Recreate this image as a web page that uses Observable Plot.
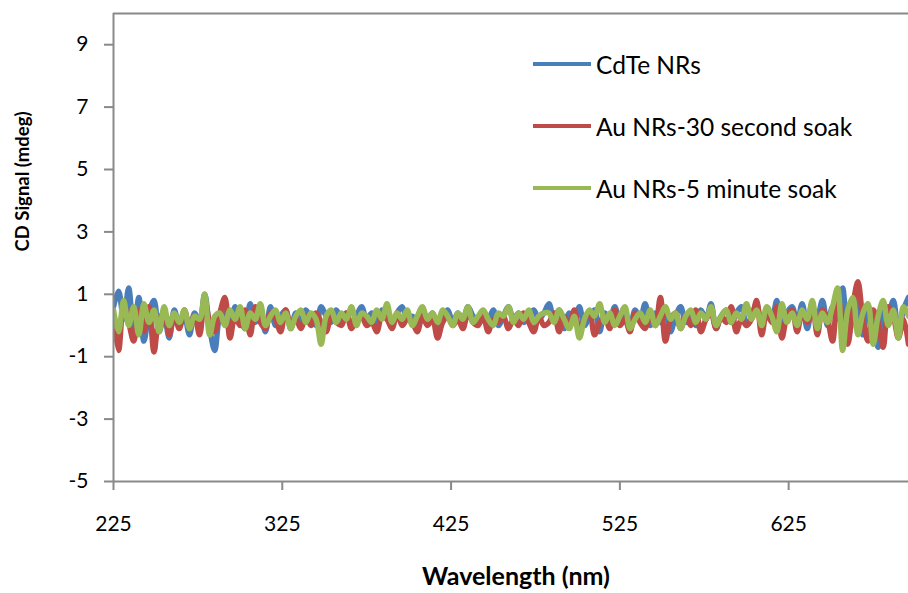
<!DOCTYPE html>
<html><head><meta charset="utf-8">
<script src="https://cdn.jsdelivr.net/npm/d3@7"></script>
<script src="https://cdn.jsdelivr.net/npm/@observablehq/plot@0.6"></script>
<style>
html,body{margin:0;padding:0;background:#fff;overflow:hidden}
#wrap{position:relative;width:908px;height:593px;font-family:Lato,"Open Sans",sans-serif}
.item{position:absolute;left:533px;height:30px;display:flex;align-items:center;white-space:nowrap;font-size:24.5px;color:#000}
.swatch{width:58px;height:4px;margin-right:5px}
</style></head><body><div id="wrap"></div>
<script>
// sampling grid (nm)
const wavelengths = d3.range(225, 697, 3);
const cdte = [
 0.6,1.1,0.2,1.2,-0.3,0.9,-0.5,0.4,0.8,-0.2,0.3,-0.4,0.5,
 0.0,0.3,-0.3,0.4,0.1,1.0,-0.1,-0.8,0.3,0.5,-0.2,0.6,0.2,-0.1,0.7,0.1,0.4,-0.2,0.6,0.0,0.3,0.5,-0.1,
 0.4,0.1,0.5,0.2,0.0,0.6,0.3,0.1,0.5,0.2,
 0.4,0.0,0.3,0.6,0.2,0.4,0.1,0.5,0.3,0.0,
 0.4,0.6,0.2,0.3,0.1,0.5,0.2,0.4,0.0,0.3,
 0.5,0.1,0.4,0.2,0.6,0.3,0.1,0.4,0.2,0.5,
 0.0,0.3,0.6,0.2,0.4,0.1,0.3,0.5,0.2,0.4,
 0.7,0.2,0.5,-0.1,0.4,0.1,0.6,0.0,0.3,0.5,
 -0.2,0.4,0.2,0.6,0.1,0.3,-0.1,0.5,0.2,0.7,
 0.0,0.4,0.1,0.5,-0.2,0.3,0.6,0.1,0.4,0.0,
 0.5,0.2,0.7,-0.1,0.3,0.5,0.1,0.4,0.6,0.0,
 0.3,0.7,0.0,0.5,0.2,0.8,-0.2,0.4,0.6,0.1,
 0.7,-0.1,0.5,0.3,0.8,0.0,0.6,0.2,1.2,-0.4,
 0.3,0.9,-0.3,0.6,0.2,-0.7,0.7,0.4,0.8,-0.2,
 0.5,0.9
];
const au30 = [
 0.3,-0.8,0.7,0.1,-0.5,0.5,-0.2,0.6,-0.85,0.2,0.4,-0.3,0.3,
 -0.1,0.5,0.0,0.3,-0.3,0.8,0.1,-0.2,0.4,0.9,
 -0.4,0.3,0.0,0.5,-0.3,0.6,0.1,-0.1,0.4,0.2,
 -0.2,0.5,0.0,
 0.2,-0.1,0.3,0.0,0.4,0.1,-0.2,0.3,0.1,0.0,
 0.4,-0.1,0.2,0.3,0.0,0.1,-0.2,0.3,0.2,-0.1,
 0.4,0.0,0.2,0.1,-0.2,0.3,0.0,0.2,-0.4,0.1,
 0.3,0.0,0.2,-0.1,0.4,0.1,0.0,0.3,-0.2,0.2,
 0.1,0.3,-0.1,0.2,0.0,0.4,0.1,-0.2,0.3,0.0,
 0.1,0.4,-0.2,0.3,0.0,0.5,-0.1,0.2,0.4,-0.3,
 0.1,0.3,-0.1,0.5,0.0,0.2,-0.2,0.4,0.1,-0.1,
 0.3,0.0,0.9,-0.5,0.2,0.4,-0.1,0.3,0.0,0.5,
 -0.2,0.2,0.4,-0.1,0.3,0.1,0.6,-0.2,0.2,0.0,
 0.2,0.8,-0.3,0.4,0.1,0.6,-0.4,0.3,0.5,-0.2,
 0.4,0.1,0.7,-0.3,0.5,0.2,-0.5,0.8,0.3,-0.6,
 0.6,1.4,0.2,-0.5,0.5,0.1,-0.7,0.6,0.3,-0.4,
 0.2,-0.6
];
const au5 = [
 0.5,-0.2,0.8,0.0,0.6,-0.3,0.7,0.1,0.5,-0.2,0.6,0.0,0.4,
 0.1,0.5,-0.1,0.3,0.2,1.0,-0.3,0.3,0.4,0.0,
 0.5,0.2,0.6,-0.1,0.4,0.2,0.7,0.0,0.3,0.5,
 0.1,0.4,-0.1,
 0.3,0.5,0.1,0.4,0.2,-0.6,0.3,0.5,0.1,0.4,
 0.2,0.6,0.0,0.4,0.3,0.1,0.5,0.2,0.7,0.1,
 0.4,0.2,0.5,0.0,0.3,0.6,0.2,0.4,0.1,0.5,
 0.3,0.0,0.4,0.2,0.6,0.1,0.3,0.5,0.2,0.0,
 0.4,0.3,0.6,0.1,0.4,0.2,0.5,0.1,0.3,0.4,
 0.4,0.1,0.5,0.2,-0.1,0.3,-0.4,0.2,0.5,0.3,
 0.7,0.1,0.4,0.0,0.3,0.6,-0.1,0.2,0.4,0.1,
 0.5,0.0,0.3,0.6,0.2,0.4,-0.1,0.3,0.5,0.1,
 0.4,0.2,0.6,0.0,0.3,0.5,0.1,0.4,0.2,0.7,
 0.2,0.5,0.0,0.6,0.3,-0.2,0.7,0.1,0.4,0.0,
 0.5,0.2,0.8,-0.1,0.4,0.1,0.6,1.2,-0.8,0.5,
 0.9,-0.3,0.4,0.7,-0.6,0.3,0.8,0.0,0.5,-0.4,
 0.6,0.3
];
const seriesNames = ["CdTe NRs", "Au NRs-30 second soak", "Au NRs-5 minute soak"];
const seriesColors = ["#4A7EBB", "#BE4B48", "#98B954"];
const yTicks = [-5, -3, -1, 1, 3, 5, 7, 9];
const xTicks = [225, 325, 425, 525, 625];
const xTitle = "Wavelength (nm)";
const yTitle = "CD Signal (mdeg)";

const seriesValues = [cdte, au30, au5];
const rowsFor = vals => wavelengths.map((w, i) => ({wl: w, v: vals[i]})).filter(d => d.v != null);

const axisGray = "#898989";
const chart = Plot.plot({
  width: 908, height: 593,
  marginLeft: 113, marginRight: 0, marginTop: 13, marginBottom: 112,
  style: {fontFamily: "Lato, 'Open Sans', sans-serif", fontSize: "21px", color: "#000", background: "#fff"},
  x: {domain: [225, 696]},
  y: {domain: [-5, 10]},
  marks: [
    ...seriesValues.map((vals, k) => Plot.lineY(rowsFor(vals), {
      x: "wl", y: "v", stroke: seriesColors[k], strokeWidth: 5.5,
      strokeLinejoin: "round", strokeLinecap: "round", curve: "catmull-rom", clip: true
    })),
    Plot.ruleX([225], {stroke: axisGray, strokeWidth: 2}),
    Plot.ruleY([-5, 10], {stroke: axisGray, strokeWidth: 2}),
    Plot.axisY({ticks: yTicks, tickSize: 9, tickPadding: 16, tickFormat: d => String(d), stroke: axisGray, strokeWidth: 2, fill: "#000", label: null, fontSize: 21}),
    Plot.axisX({ticks: xTicks, tickSize: 9, tickPadding: 26, tickFormat: d => String(d), stroke: axisGray, strokeWidth: 2, fill: "#000", label: null, fontSize: 21}),
    Plot.text([xTitle], {frameAnchor: "bottom", dy: 103, dx: 5, fontWeight: "bold", fontSize: 25, fill: "#000"}),
    Plot.text([yTitle], {frameAnchor: "left", dx: -90, dy: 4, rotate: -90, fontWeight: "bold", fontSize: 18.5, fill: "#000"})
  ]
});
const wrap = document.getElementById("wrap");
wrap.appendChild(chart);
const tops = [49, 111, 173];
seriesNames.forEach((name, k) => {
  const it = document.createElement("div");
  it.className = "item";
  it.style.top = tops[k] + "px";
  const sw = document.createElement("span");
  sw.className = "swatch";
  sw.style.background = seriesColors[k];
  const tx = document.createElement("span");
  tx.textContent = name;
  it.appendChild(sw); it.appendChild(tx);
  wrap.appendChild(it);
});
</script></body></html>
